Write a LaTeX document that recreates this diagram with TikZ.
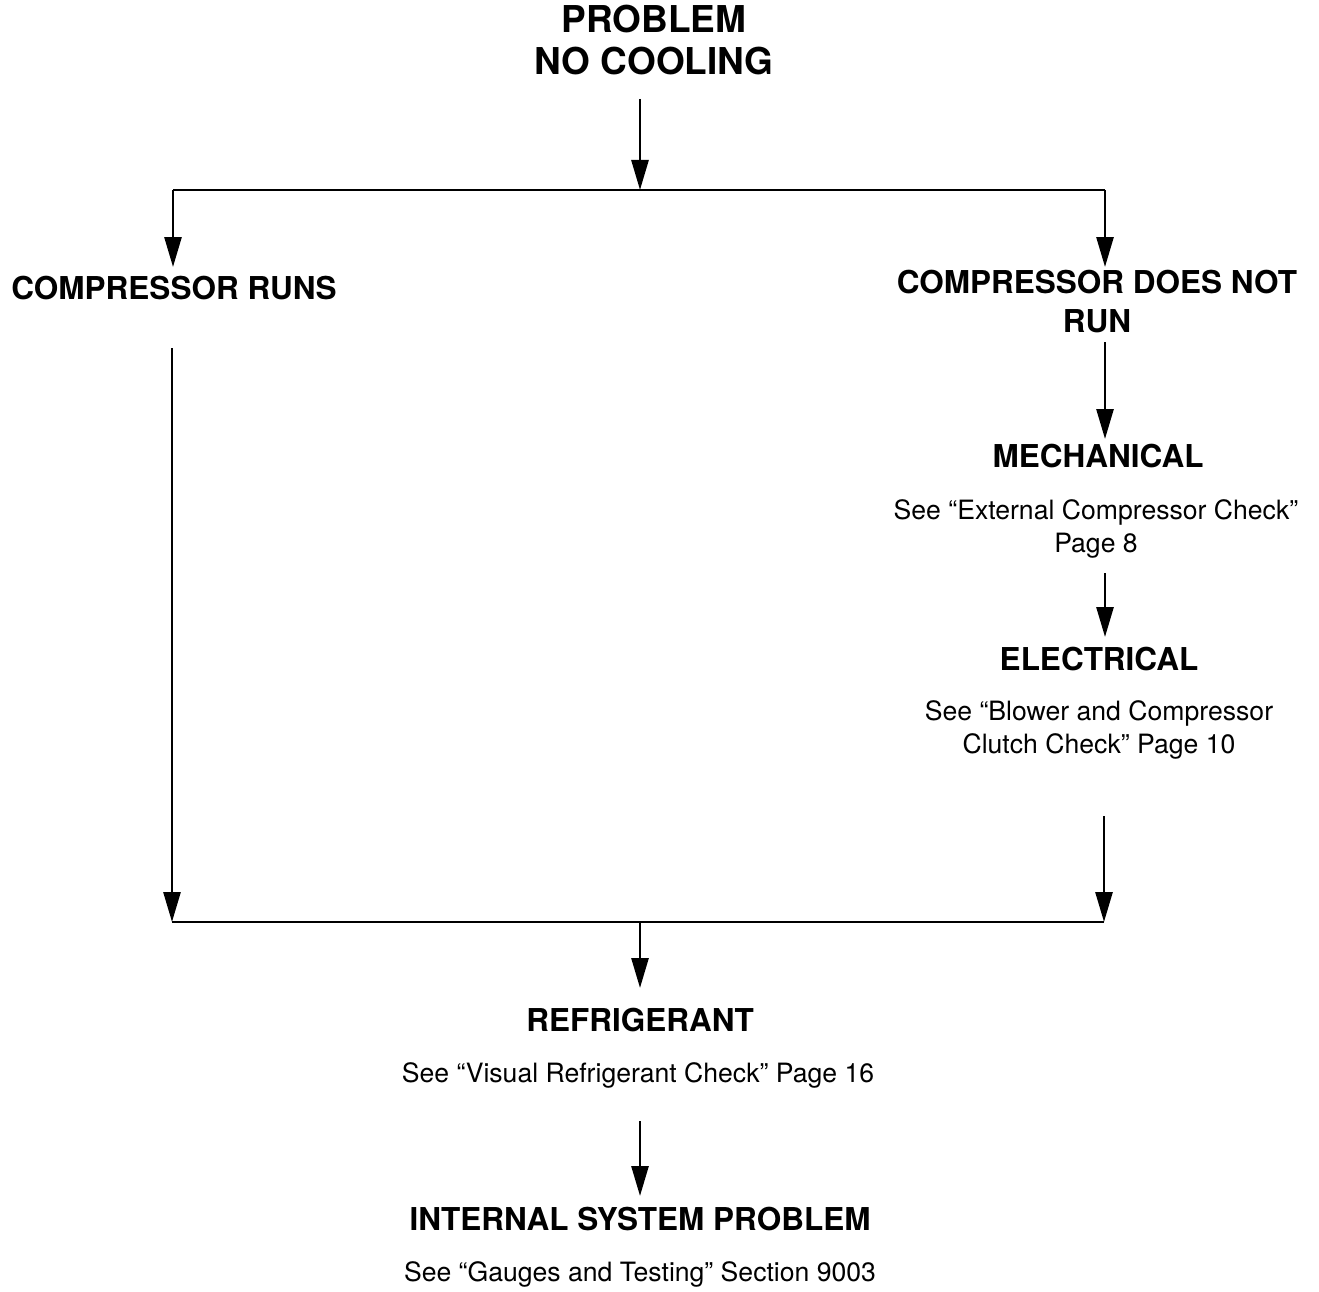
\documentclass[tikz,border=0pt]{standalone}
\usepackage{fontspec}
\setmainfont{TeX Gyre Heros}
\usetikzlibrary{positioning, arrows.meta}

\begin{document}
\begin{tikzpicture}[x=1pt, y=-1pt, line width=2.7pt,
    title/.style={font=\fontsize{37}{42}\selectfont\bfseries, align=center, inner sep=0pt, anchor=base},
    head/.style={font=\fontsize{31.5}{39}\selectfont\bfseries, align=center, inner sep=0pt, anchor=base},
    note/.style={font=\fontsize{26.6}{32.5}\selectfont, align=center, inner sep=0pt, anchor=base},
    flow/.style={-{Triangle[length=30pt, width=17pt]}}]
  \useasboundingbox (0,0) rectangle (1319,1292);

  % Problem and split into the two cases
  % (multi-line nodes sit on the base of their last line)
  \node[title] (prob) at (654,75) {PROBLEM\\NO COOLING};
  \coordinate (probout) at (640,99);
  \coordinate (split) at (640,190);
  \coordinate (splitl) at (173,190);
  \coordinate (splitr) at (1105,190);
  \draw[flow] (probout) -- (split);
  \draw (splitl) -- (splitr);

  \node[head] (runs) at (174,299) {COMPRESSOR RUNS};
  \node[head] (noruns) at (1097,332) {COMPRESSOR DOES NOT\\RUN};
  \coordinate (runsin) at (173,267);
  \coordinate (norunsin) at (1105,267);
  \draw[flow] (splitl) -- (runsin);
  \draw[flow] (splitr) -- (norunsin);

  % Compressor does not run
  \coordinate (norunsout) at (1105,342);
  \coordinate (mechin) at (1105,439);
  \node[head] (mech) at (1098,467) {MECHANICAL};
  \node[note] (mechnote) at (1096,552) {See “External Compressor Check”\\Page 8};
  \draw[flow] (norunsout) -- (mechin);

  \coordinate (mechout) at (1105,573);
  \coordinate (elecin) at (1105,637);
  \node[head] (elec) at (1099,670) {ELECTRICAL};
  \node[note] (elecnote) at (1099,753) {See “Blower and Compressor\\Clutch Check” Page 10};
  \draw[flow] (mechout) -- (elecin);

  % Both cases join again
  \coordinate (runsout) at (172,348);
  \coordinate (joinl) at (172,922);
  \coordinate (elecout) at (1104,816);
  \coordinate (joinr) at (1104,922);
  \coordinate (join) at (640,922);
  \draw[flow] (runsout) -- (joinl);
  \draw[flow] (elecout) -- (joinr);
  \draw (joinl) -- (joinr);

  \coordinate (refin) at (640,988);
  \node[head] (refr) at (640,1031) {REFRIGERANT};
  \node[note] (refnote) at (638,1082) {See “Visual Refrigerant Check” Page 16};
  \draw[flow] (join) -- (refin);

  \coordinate (refout) at (640,1121);
  \coordinate (intin) at (640,1196);
  \node[head] (intl) at (640,1230) {INTERNAL SYSTEM PROBLEM};
  \node[note] (intnote) at (640,1281) {See “Gauges and Testing” Section 9003};
  \draw[flow] (refout) -- (intin);
\end{tikzpicture}
\end{document}
